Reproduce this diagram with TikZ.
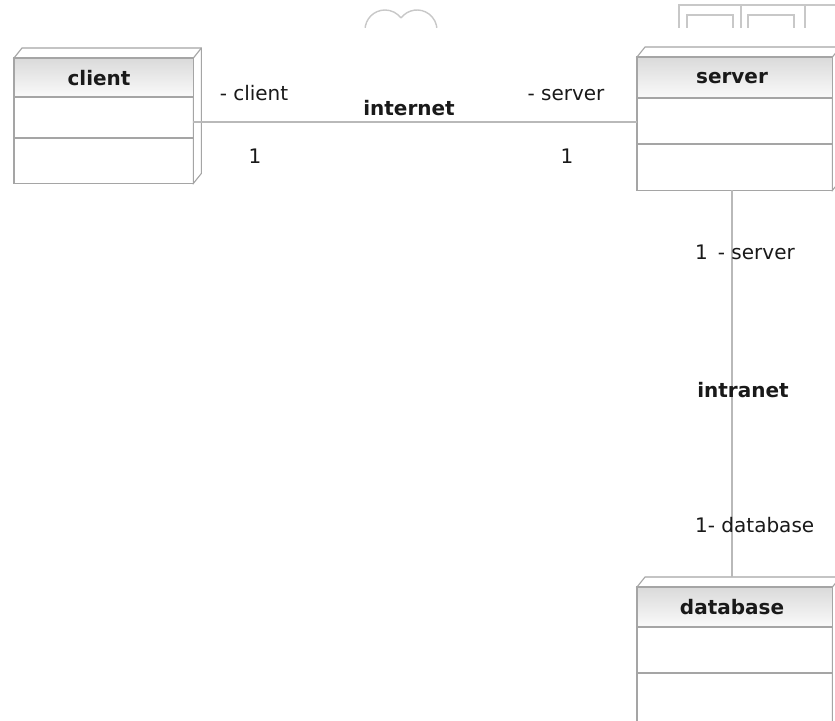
\documentclass[tikz,border=0pt]{standalone}
\usepackage{fontspec}
\setmainfont{DejaVu Sans}
\usetikzlibrary{calc}
\definecolor{boxline}{RGB}{165,165,165}
\definecolor{linkline}{RGB}{185,185,185}
\definecolor{iconline}{RGB}{200,200,200}
\definecolor{headtop}{RGB}{218,218,218}
\definecolor{headbot}{RGB}{250,250,250}
\definecolor{ink}{RGB}{25,25,25}
\tikzset{
  classface/.style={rectangle, inner sep=0pt, fill=white, anchor=north west},
  boxedge/.style={draw=boxline, line width=1.1pt},
  linkedge/.style={draw=linkline, line width=1.2pt},
  iconedge/.style={draw=iconline, line width=1.4pt},
  classname/.style={font=\fontsize{20}{24}\selectfont\bfseries, text=ink, inner sep=0pt},
  rolelabel/.style={font=\fontsize{20}{24}\selectfont, text=ink, inner sep=0pt},
  assoclabel/.style={font=\fontsize{20}{24}\selectfont\bfseries, text=ink, inner sep=0pt},
}
\begin{document}
\begin{tikzpicture}[x=1pt, y=-1pt]
\useasboundingbox (0,0) rectangle (835,720);
\fill[white] (0,0) rectangle (835,720);

% faint cloud and grid icons at the top edge
\begin{scope}
  \clip (340,0) rectangle (835,27);
  \draw[iconedge] (365,30) arc[start angle=180, end angle=323.13, radius=20];
  \draw[iconedge] (401,18) arc[start angle=216.87, end angle=360, radius=20];
  \draw[iconedge] (679,30) -- (679,5) -- (840,5);
  \draw[iconedge] (687,30) -- (687,15) -- (733,15) -- (733,30);
  \draw[iconedge] (741,5) -- (741,30);
  \draw[iconedge] (748,30) -- (748,15) -- (794,15) -- (794,30);
  \draw[iconedge] (805,5) -- (805,30);
\end{scope}

% class boxes: front faces
\node[classface, minimum width=179pt, minimum height=125pt] (client) at (14,58) {};
\node[classface, minimum width=195pt, minimum height=133pt] (server) at (637,57) {};
\node[classface, minimum width=195pt, minimum height=140pt] (database) at (637,587) {};

% 3D depth of each box
\foreach \b in {client, server, database}{
  \filldraw[fill=white, boxedge] (\b.north west) -- ++(8,-10) -- ($(\b.north east)+(8,-10)$)
    -- ($(\b.south east)+(8,-10)$) -- (\b.south east) -- (\b.north east) -- cycle;
  \draw[boxedge] (\b.north east) -- ++(8,-10);
}

% shaded name compartments
\shade[top color=headtop, bottom color=headbot] (client.north west) rectangle (193,97);
\shade[top color=headtop, bottom color=headbot] (server.north west) rectangle (832,98);
\shade[top color=headtop, bottom color=headbot] (database.north west) rectangle (832,627);

% outlines and compartment dividers
\draw[boxedge] (client.north west) rectangle (client.south east);
\draw[boxedge] (client.west |- 0,97) -- (client.east |- 0,97);
\draw[boxedge] (client.west |- 0,138) -- (client.east |- 0,138);
\draw[boxedge] (server.north west) rectangle (server.south east);
\draw[boxedge] (server.west |- 0,98) -- (server.east |- 0,98);
\draw[boxedge] (server.west |- 0,144) -- (server.east |- 0,144);
\draw[boxedge] (database.north west) rectangle (database.south east);
\draw[boxedge] (database.west |- 0,627) -- (database.east |- 0,627);
\draw[boxedge] (database.west |- 0,673) -- (database.east |- 0,673);

% class names
\node[classname] (clientname) at (99,78) {client};
\node[classname] (servername) at (732,78) {server};
\node[classname] (databasename) at (732,607) {database};

% associations
\coordinate (dbjoin) at (732,577);
\draw[linkedge] (client.east |- 0,122) -- (server.west |- 0,122);
\draw[linkedge] (dbjoin |- server.south) -- (dbjoin);

% association labels
\node[assoclabel] (internet) at (409,108) {internet};
\node[rolelabel] (clientrole) at (254,93) {- client};
\node[rolelabel] (clientmult) at (255,156) {1};
\node[rolelabel] (serverrole) at (566,95) {- server};
\node[rolelabel] (servermult) at (567,156) {1};
\node[assoclabel] (intranet) at (743,390) {intranet};
\node[rolelabel, anchor=west] (serverend) at (695,252) {1\hspace{0.5em}- server};
\node[rolelabel, anchor=west] (dbend) at (695,525) {1- database};
\end{tikzpicture}
\end{document}
